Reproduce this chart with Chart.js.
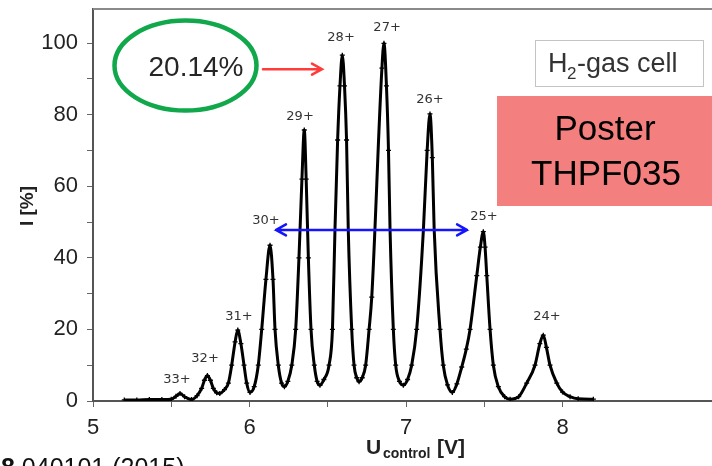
<!DOCTYPE html>
<html lang="en">
<head>
  <meta charset="UTF-8">
  <title>Charge state distribution - H2 gas cell</title>
  <script src="https://cdn.jsdelivr.net/npm/chart.js@4.4.1/dist/chart.umd.min.js"></script>
  <style>
    html, body { margin: 0; padding: 0; background: #fff; }
    #wrap { width: 712px; height: 466px; }
  </style>
</head>
<body>
<div id="wrap"><canvas id="spectrum" width="712" height="466"></canvas></div>

<script>
  // control voltage [V] and intensity [%]
  const uControl = [
    5.20, 5.28, 5.36, 5.44, 5.50, 5.53, 5.556, 5.585, 5.63,
    5.665, 5.694, 5.712, 5.731, 5.75, 5.769, 5.79, 5.81,
    5.84, 5.865, 5.886, 5.908, 5.925, 5.945, 5.965, 5.982, 6.003,
    6.03, 6.056, 6.078, 6.105, 6.131, 6.15, 6.163, 6.184, 6.205, 6.223,
    6.245, 6.27, 6.295, 6.316, 6.335, 6.35, 6.362, 6.376, 6.393, 6.414, 6.432, 6.45,
    6.475, 6.508, 6.53, 6.546, 6.563, 6.578, 6.593, 6.607, 6.62, 6.631, 6.653, 6.668, 6.685, 6.70,
    6.72, 6.742, 6.764, 6.781, 6.846, 6.859, 6.875, 6.888, 6.898, 6.919, 6.934, 6.958, 6.983,
    7.01, 7.036, 7.068, 7.111, 7.135, 7.153, 7.168, 7.18, 7.217, 7.238, 7.265, 7.296,
    7.325, 7.356, 7.385, 7.409, 7.452, 7.475, 7.494, 7.505, 7.516, 7.537, 7.558, 7.59, 7.63, 7.665,
    7.72, 7.771, 7.824, 7.855, 7.877, 7.897, 7.92, 7.963, 8.00, 8.048, 8.10, 8.197
  ];
  const intensity = [
    0.3, 0.3, 0.4, 0.4, 0.5, 1.3, 2.1, 1.2, 0.4,
    1.5, 3.5, 5.8, 7.1, 5.8, 3.5, 2.3, 2.1,
    3.2, 5.0, 10.0, 16.5, 19.8, 16.0, 10.0, 5.0, 2.4,
    4.0, 10.0, 20.0, 34.0, 43.5, 34.0, 20.0, 10.0, 5.0, 4.0,
    5.5, 10.0, 20.0, 40.0, 62.0, 75.7, 62.0, 40.0, 20.0, 10.0, 5.5, 4.4,
    6.0, 10.0, 20.0, 47.8, 72.9, 88.0, 96.6, 88.0, 72.9, 47.8, 20.0, 10.0, 6.5, 5.4,
    6.5, 10.0, 20.0, 29.0, 93.0, 99.9, 88.0, 70.0, 47.8, 20.0, 10.0, 5.5, 4.4,
    6.0, 10.0, 20.0, 47.8, 70.0, 80.2, 68.0, 47.8, 20.0, 10.0, 4.5, 2.4,
    4.8, 9.5, 14.5, 20.0, 35.0, 43.0, 47.3, 43.0, 35.0, 20.0, 10.0, 4.0, 1.2, 0.5,
    1.2, 5.0, 10.0, 16.0, 18.4, 15.0, 10.0, 5.0, 2.5, 1.2, 0.6, 0.5
  ];

  // charge state labels, anchored in data units (U, I)
  const chargeStates = ['33+', '32+', '31+', '30+', '29+', '28+', '27+', '26+', '25+', '24+'];
  const labelU = [5.537, 5.716, 5.933, 6.105, 6.323, 6.585, 6.879, 7.153, 7.498, 7.90];
  const labelI = [6.1, 11.7, 23.7, 50.3, 79.3, 101.4, 104.2, 84.1, 51.4, 23.7];

  const xTickLabels = [5, 6, 7, 8];
  const yTickLabels = [0, 20, 40, 60, 80, 100];

  const SANS = '"Liberation Sans", Arial, sans-serif';

  // open chevron arrow, optionally with a head at both ends
  function arrow(ctx, x1, y1, x2, y2, color, lw, head, both) {
    ctx.save();
    ctx.strokeStyle = color;
    ctx.lineWidth = lw;
    ctx.lineCap = 'round';
    ctx.beginPath();
    ctx.moveTo(x1, y1);
    ctx.lineTo(x2, y2);
    const heads = both ? [[x2, y2, 1], [x1, y1, -1]] : [[x2, y2, 1]];
    heads.forEach(([hx, hy, d]) => {
      ctx.moveTo(hx - d * head, hy - head * 0.55);
      ctx.lineTo(hx, hy);
      ctx.lineTo(hx - d * head, hy + head * 0.55);
    });
    ctx.stroke();
    ctx.restore();
  }

  const overlay = {
    id: 'overlay',
    afterDraw(chart) {
      const { ctx, chartArea: a, scales: { x, y } } = chart;
      ctx.save();

      // top frame line
      ctx.strokeStyle = '#8a8a8a';
      ctx.lineWidth = 2;
      ctx.beginPath();
      ctx.moveTo(a.left, a.top);
      ctx.lineTo(a.right, a.top);
      ctx.stroke();

      // charge state labels
      ctx.fillStyle = '#333';
      ctx.font = '13px "DejaVu Sans", sans-serif';
      ctx.textAlign = 'center';
      ctx.textBaseline = 'middle';
      chargeStates.forEach((s, i) => {
        ctx.fillText(s, x.getPixelForValue(labelU[i]), y.getPixelForValue(labelI[i]));
      });

      // green ellipse + 20.14%
      const ex = x.getPixelForValue(5.591), ey = y.getPixelForValue(93.7);
      ctx.strokeStyle = '#10a84a';
      ctx.lineWidth = 4.5;
      ctx.beginPath();
      ctx.ellipse(ex, ey, 71, 45, 0, 0, Math.PI * 2);
      ctx.stroke();
      ctx.fillStyle = '#262626';
      ctx.font = '28px ' + SANS;
      ctx.textBaseline = 'alphabetic';
      ctx.fillText('20.14%', x.getPixelForValue(5.658), y.getPixelForValue(90.8));

      arrow(ctx, x.getPixelForValue(6.086), y.getPixelForValue(92.7),
            x.getPixelForValue(6.463), y.getPixelForValue(92.7), '#ff3b3b', 2.5, 10, false);
      arrow(ctx, x.getPixelForValue(6.169), y.getPixelForValue(47.8),
            x.getPixelForValue(7.39), y.getPixelForValue(47.8), '#1414ff', 2.5, 10, true);

      // H2-gas cell box
      ctx.fillStyle = '#fff';
      ctx.fillRect(535, 40, 168, 46);
      ctx.strokeStyle = '#c4c4c4';
      ctx.lineWidth = 1;
      ctx.strokeRect(535.5, 40.5, 168, 46);
      ctx.fillStyle = '#333';
      ctx.textAlign = 'left';
      ctx.font = '27px ' + SANS;
      ctx.fillText('H', 548, 72);
      ctx.font = '17px ' + SANS;
      ctx.fillText('2', 567, 79);
      ctx.font = '27px ' + SANS;
      ctx.fillText('-gas cell', 577, 72);

      // poster box
      ctx.fillStyle = '#f47f7f';
      ctx.fillRect(497, 96, 215, 110);
      ctx.fillStyle = '#000';
      ctx.textAlign = 'center';
      ctx.font = '35px ' + SANS;
      ctx.fillText('Poster', 605, 140);
      ctx.fillText('THPF035', 606, 185);

      // axis titles
      ctx.fillStyle = '#222';
      ctx.textAlign = 'left';
      ctx.font = 'bold 21px ' + SANS;
      ctx.fillText('U', 366, 454);
      ctx.font = 'bold 14px ' + SANS;
      ctx.fillText('control', 383, 458);
      ctx.font = 'bold 21px ' + SANS;
      ctx.fillText('[V]', 437, 454);

      ctx.save();
      ctx.translate(28, 206);
      ctx.rotate(-Math.PI / 2);
      ctx.textAlign = 'center';
      ctx.textBaseline = 'middle';
      ctx.font = 'bold 19px ' + SANS;
      ctx.fillText('I [%]', 0, 0);
      ctx.restore();

      // citation cut off at the bottom edge
      ctx.fillStyle = '#111';
      ctx.font = 'bold 25px ' + SANS;
      ctx.fillText('8', 1, 476);
      const w = ctx.measureText('8').width;
      ctx.font = '25px ' + SANS;
      ctx.fillText(' 040101 (2015)', 1 + w, 476);

      ctx.restore();
    }
  };

  const halfSteps = axis => {
    axis.ticks = axis.ticks.filter(t => Math.abs(t.value * 2 - Math.round(t.value * 2)) < 1e-6);
  };
  const tenSteps = axis => {
    axis.ticks = axis.ticks.filter(t => Math.abs(t.value / 10 - Math.round(t.value / 10)) < 1e-6);
  };
  // no extra room for overhanging tick labels
  const noPad = s => {
    s.paddingTop = 0; s.paddingBottom = 0; s.paddingLeft = 0; s.paddingRight = 0;
  };

  const chart = new Chart(document.getElementById('spectrum'), {
    type: 'line',
    data: {
      datasets: [{
        data: uControl.map((u, i) => ({ x: u, y: intensity[i] })),
        borderColor: '#000',
        borderWidth: 3,
        cubicInterpolationMode: 'monotone',
        pointStyle: 'cross',
        pointRadius: 2.5,
        pointBorderWidth: 1.3,
        pointBorderColor: '#000',
        fill: false
      }]
    },
    options: {
      responsive: false,
      devicePixelRatio: 1,
      animation: false,
      layout: { autoPadding: false, padding: { top: 9, right: 0, left: 0, bottom: 0 } },
      plugins: { legend: { display: false }, tooltip: { enabled: false }, title: { display: false } },
      scales: {
        x: {
          type: 'linear',
          min: 5,
          max: 8.955,
          afterBuildTicks: halfSteps,
          afterFit: s => { s.height = 65; noPad(s); },
          ticks: {
            stepSize: 0.5,
            autoSkip: false,
            maxRotation: 0,
            padding: 8,
            color: '#222',
            font: { family: SANS, size: 22 },
            callback: v => xTickLabels.includes(v) ? v : ''
          },
          grid: { drawOnChartArea: false, tickLength: 6, color: '#666' },
          border: { color: '#555', width: 2 }
        },
        y: {
          min: 0,
          max: 109.5,
          afterBuildTicks: tenSteps,
          afterFit: s => { s.width = 93; noPad(s); },
          ticks: {
            stepSize: 10,
            autoSkip: false,
            padding: 9,
            color: '#222',
            font: { family: SANS, size: 22 },
            callback: v => yTickLabels.includes(v) ? v : ''
          },
          grid: { drawOnChartArea: false, tickLength: 6, color: '#666' },
          border: { color: '#555', width: 2 }
        }
      }
    },
    plugins: [overlay]
  });
</script>
</body>
</html>
